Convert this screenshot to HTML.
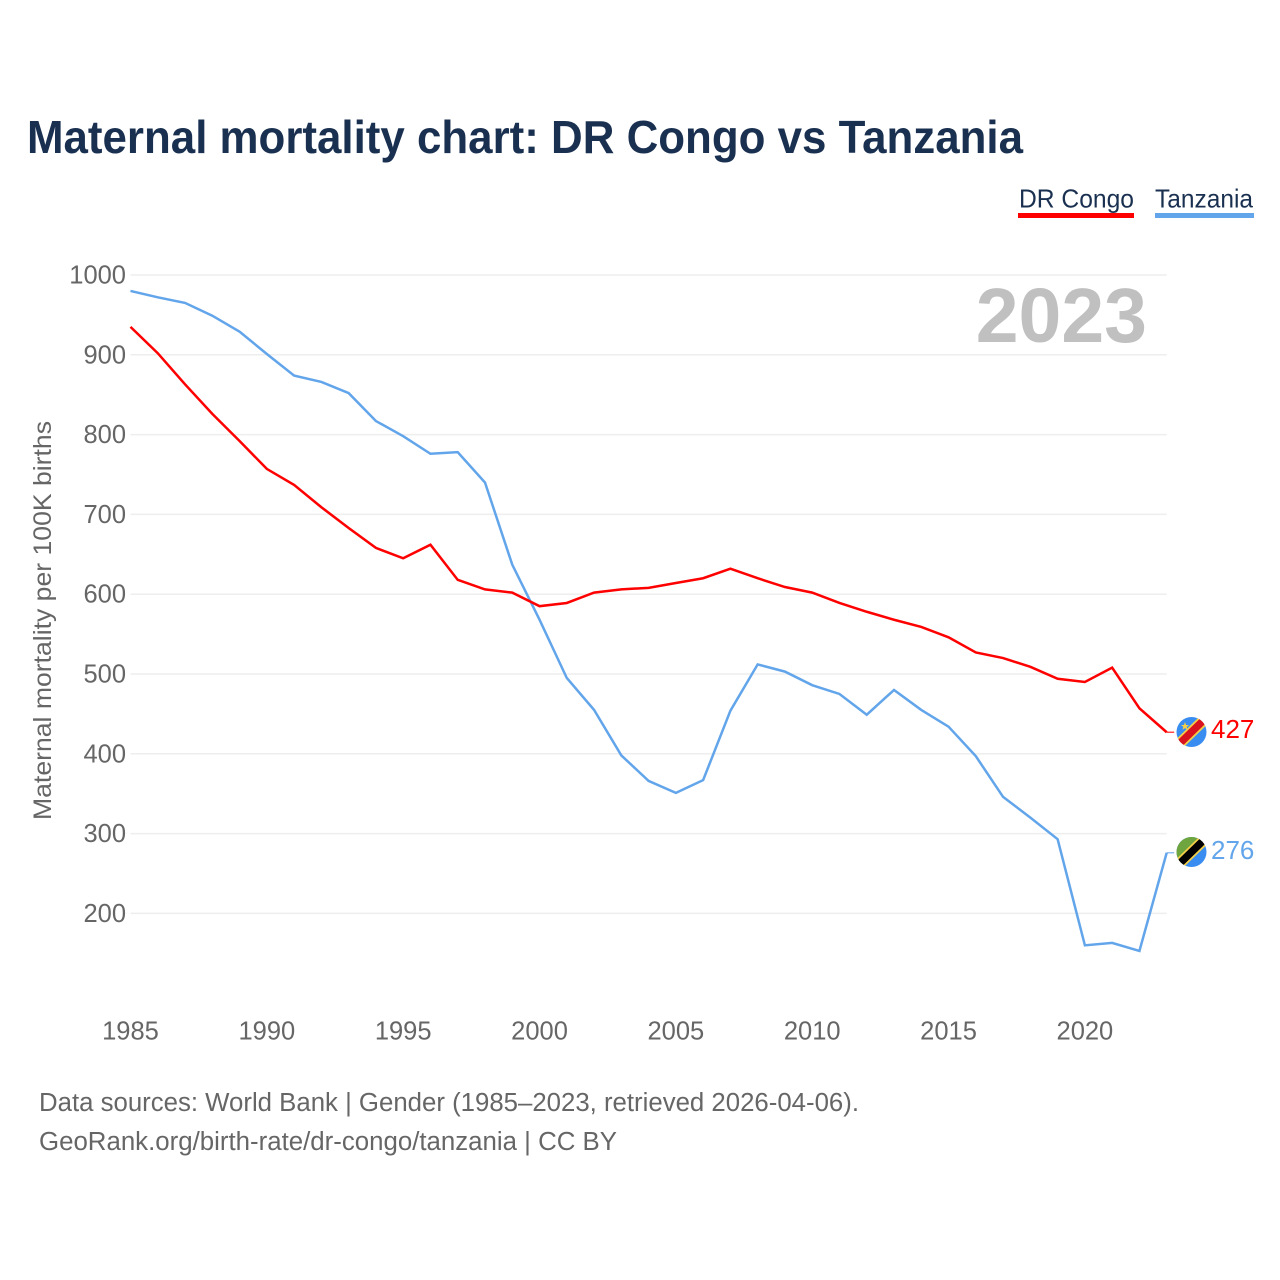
<!DOCTYPE html>
<html lang="en">
<head>
<meta charset="utf-8">
<title>Maternal mortality chart: DR Congo vs Tanzania</title>
<style>
html,body{margin:0;padding:0;background:#fff;width:1280px;height:1280px;overflow:hidden}
svg{display:block}
text{font-family:"Liberation Sans",sans-serif}
</style>
</head>
<body>
<svg id="chart" xmlns="http://www.w3.org/2000/svg" width="1280" height="1280" viewBox="0 0 1280 1280">
  <rect width="1280" height="1280" fill="#fff"/>
  <text x="27" y="153" font-size="46" font-weight="bold" fill="#1a3050" textLength="996" lengthAdjust="spacingAndGlyphs">Maternal mortality chart: DR Congo vs Tanzania</text>

  <g>
    <g>
      <text x="1019" y="207.5" font-size="26" fill="#1a3050" textLength="115" lengthAdjust="spacingAndGlyphs">DR Congo</text>
      <rect x="1018" y="213" width="116" height="5" fill="#ff0000"/>
    </g>
    <g>
      <text x="1155" y="207.5" font-size="26" fill="#1a3050" textLength="98" lengthAdjust="spacingAndGlyphs">Tanzania</text>
      <rect x="1155" y="213" width="99" height="5" fill="#62a5ea"/>
    </g>
  </g>

  <g id="grid"></g>
  <g id="yticks"></g>
  <g id="xticks"></g>

  <text transform="translate(51,820) rotate(-90)" font-size="25" fill="#666" textLength="399" lengthAdjust="spacingAndGlyphs">Maternal mortality per 100K births</text>

  <text x="1147" y="342" text-anchor="end" font-size="77" font-weight="bold" fill="#c0c0c0">2023</text>

  <g id="series"></g>

  <defs>
    <clipPath id="clip-cd"><circle cx="1191.5" cy="732" r="15"/></clipPath>
    <clipPath id="clip-tz"><circle cx="1191.5" cy="852" r="15"/></clipPath>
  </defs>

  <g id="flag-cd" clip-path="url(#clip-cd)">
    <rect x="1176" y="716" width="31" height="32" fill="#3a8df0"/>
    <line x1="1174" y1="749" x2="1209" y2="715" stroke="#f5cf47" stroke-width="11"/>
    <line x1="1174" y1="749" x2="1209" y2="715" stroke="#d8121f" stroke-width="7.5"/>
    <polygon points="1185,722 1186.1,725 1189,725 1186.7,726.9 1187.5,729.8 1185,728.1 1182.5,729.8 1183.3,726.9 1181,725 1183.9,725" fill="#f5cf47"/>
  </g>
  <g id="flag-tz" clip-path="url(#clip-tz)">
    <rect x="1176" y="836" width="31" height="32" fill="#3a8df0"/>
    <polygon points="1176,836 1207,836 1176,868" fill="#6fa53f"/>
    <line x1="1174" y1="869" x2="1209" y2="835" stroke="#f5cf47" stroke-width="11"/>
    <line x1="1174" y1="869" x2="1209" y2="835" stroke="#000" stroke-width="7.5"/>
  </g>

  <text id="value-cd" x="1211" y="738" font-size="26" fill="#ff0000"></text>
  <text id="value-tz" x="1211" y="859" font-size="26" fill="#62a5ea"></text>

  <g>
    <text x="39" y="1111" font-size="25.5" fill="#666" textLength="820" lengthAdjust="spacingAndGlyphs">Data sources: World Bank | Gender (1985–2023, retrieved 2026-04-06).</text>
    <a><text x="39" y="1150" font-size="25.5" fill="#666" textLength="578" lengthAdjust="spacingAndGlyphs">GeoRank.org/birth-rate/dr-congo/tanzania | CC BY</text></a>
  </g>
</svg>

<script>
const years = [1985,1986,1987,1988,1989,1990,1991,1992,1993,1994,1995,1996,1997,1998,1999,2000,2001,2002,2003,2004,2005,2006,2007,2008,2009,2010,2011,2012,2013,2014,2015,2016,2017,2018,2019,2020,2021,2022,2023];
const drCongo = [935,902,863,826,792,757,737,709,683,658,645,662,618,606,602,585,589,602,606,608,614,620,632,620,609,602,589,578,568,559,546,527,520,509,494,490,508,457,427];
const tanzania = [980,972,965,949,929,901,874,866,852,817,798,776,778,740,637,568,495,455,398,366,351,367,454,512,503,486,475,449,480,455,434,397,346,320,293,160,163,153,276];
const yTickValues = [200,300,400,500,600,700,800,900,1000];
const xTickValues = [1985,1990,1995,2000,2005,2010,2015,2020];

const NS = 'http://www.w3.org/2000/svg';
const xScale = function (year) { return 130.5 + (year - 1985) * (1036.2 / 38); };
const yScale = function (v) { return 275 + (1000 - v) * 0.798; };

function make(tag, parent) {
  const el = document.createElementNS(NS, tag);
  parent.appendChild(el);
  return el;
}

const gridGroup = document.getElementById('grid');
const yGroup = document.getElementById('yticks');
const xGroup = document.getElementById('xticks');
const seriesGroup = document.getElementById('series');

yTickValues.forEach(function (v) {
  const line = make('line', gridGroup);
  
  
  line.setAttribute('x1', 130.5);
  line.setAttribute('x2', 1166.7);
  line.setAttribute('y1', yScale(v));
  line.setAttribute('y2', yScale(v));
  line.setAttribute('stroke', '#eeeeee');
  line.setAttribute('stroke-width', 1.5);

  const label = make('text', yGroup);
  
  
  label.setAttribute('x', 126);
  label.setAttribute('y', yScale(v) + 8.5);
  label.setAttribute('text-anchor', 'end');
  label.setAttribute('font-size', 25.5);
  label.setAttribute('fill', '#666');
  label.textContent = v;
});

xTickValues.forEach(function (y) {
  const label = make('text', xGroup);
  
  
  label.setAttribute('x', xScale(y));
  label.setAttribute('y', 1039.5);
  label.setAttribute('text-anchor', 'middle');
  label.setAttribute('font-size', 25.5);
  label.setAttribute('fill', '#666');
  label.textContent = y;
});

function linePoints(values) {
  return values.map(function (v, i) {
    return xScale(years[i]).toFixed(2) + ',' + yScale(v).toFixed(2);
  }).join(' ');
}

function drawStub(values, color, name) {
  const last = values[values.length - 1];
  const stub = make('line', seriesGroup);
  
  
  stub.setAttribute('x1', xScale(years[years.length - 1]));
  stub.setAttribute('x2', xScale(years[years.length - 1]) + 7.5);
  stub.setAttribute('y1', yScale(last));
  stub.setAttribute('y2', yScale(last));
  stub.setAttribute('stroke', color);
  stub.setAttribute('stroke-width', 1.4);
  stub.setAttribute('stroke-opacity', 0.75);
}

const tzLine = make('polyline', seriesGroup);


tzLine.setAttribute('points', linePoints(tanzania));
tzLine.setAttribute('fill', 'none');
tzLine.setAttribute('stroke', '#62a5ea');
tzLine.setAttribute('stroke-width', 2.5);
drawStub(tanzania, '#62a5ea', 'stub-tanzania');

const cdLine = make('polyline', seriesGroup);


cdLine.setAttribute('points', linePoints(drCongo));
cdLine.setAttribute('fill', 'none');
cdLine.setAttribute('stroke', '#ff0000');
cdLine.setAttribute('stroke-width', 2.5);
drawStub(drCongo, '#ff0000', 'stub-dr-congo');

document.getElementById('value-cd').textContent = drCongo[drCongo.length - 1];
document.getElementById('value-tz').textContent = tanzania[tanzania.length - 1];
</script>
</body>
</html>
